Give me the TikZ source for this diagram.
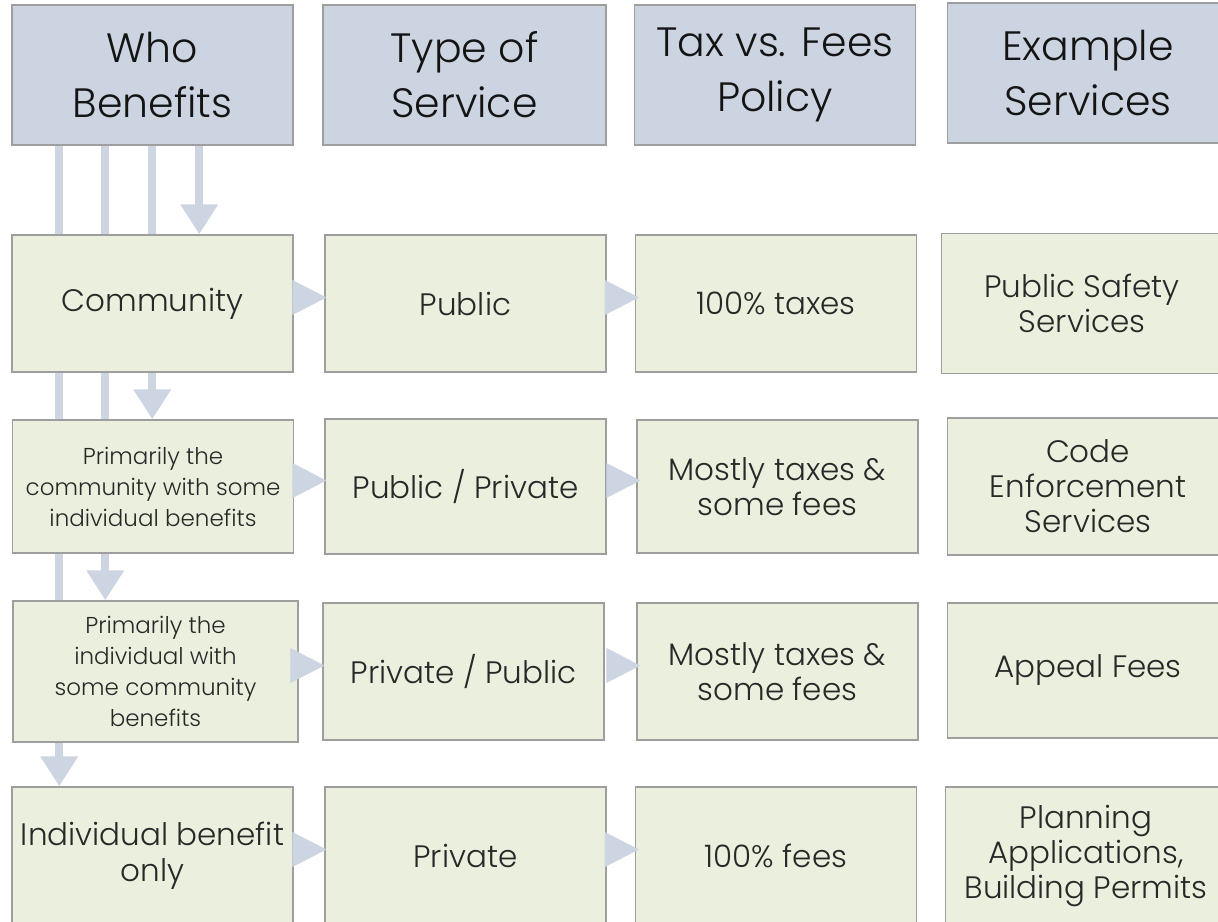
\documentclass[tikz,border=0pt]{standalone}
\usepackage{fontspec}
\setmainfont{Poppins Light}
\usepackage{tikz}
\usetikzlibrary{arrows.meta}
\usetikzlibrary{backgrounds}

\definecolor{headfill}{RGB}{205,212,225}
\definecolor{cellfill}{RGB}{235,240,222}
\definecolor{boxline}{RGB}{158,158,158}
\definecolor{arrowfill}{RGB}{205,212,226}
\definecolor{headtext}{RGB}{20,20,20}
\definecolor{celltext}{RGB}{40,40,40}

\tikzset{
	headbox/.style={draw=boxline, fill=headfill, line width=0.75pt, inner sep=0pt, align=center,
		minimum width=140.5pt, minimum height=70pt, text=headtext, font=\fontsize{20.5}{27.5}\selectfont},
	cellbox/.style={draw=boxline, fill=cellfill, line width=0.75pt, inner sep=0pt, align=center,
		minimum width=140.5pt, minimum height=68.5pt, text=celltext, font=\fontsize{15.5}{17.5}\selectfont},
	smalltext/.style={font=\fontsize{11.5}{15.5}\selectfont},
	varrow/.style={draw=arrowfill, line width=4pt, -{Triangle[length=15pt,width=18pt]}},
	harrow/.style={draw=arrowfill, line width=0.01pt, -{Triangle[length=17pt,width=17.5pt]}}
}

\begin{document}
\begin{tikzpicture}[x=0.5pt, y=-0.5pt]
	\clip (0,0) rectangle (1218,921);
	
	% column heads
	\node[headbox] (h1) at (152.5,75) {Who\\Benefits};
	\node[headbox, minimum width=141.5pt] (h2) at (464.5,75) {Type of\\Service};
	\node[headbox] (h3) at (775,75) {Tax vs. Fees\\Policy};
	\node[headbox] (h4) at (1088,73) {Example\\Services};
	
	% rows
	\node[cellbox] (b11) at (152.5,303.5) {Community};
	\node[cellbox] (b12) at (465.5,303.5) {Public};
	\node[cellbox] (b13) at (776,303.5) {100\% taxes};
	\node[cellbox, minimum height=70pt] (b14) at (1082,303.5) {Public Safety\\Services};
	
	\node[cellbox, smalltext, minimum height=66.5pt] (b21) at (153,486.5) {Primarily the\\community with some\\individual benefits};
	\node[cellbox, minimum height=67.5pt] (b22) at (465.5,486.5) {Public / Private};
	\node[cellbox, minimum height=66.5pt] (b23) at (777.5,486.5) {Mostly taxes \&\\some fees};
	\node[cellbox] (b24) at (1088,486.5) {Code\\Enforcement\\Services};
	
	\node[cellbox, smalltext, minimum width=142.5pt, minimum height=70.5pt] (b31) at (155.5,671.5) {Primarily the\\individual with\\some community\\benefits};
	\node[cellbox] (b32) at (463.5,671.5) {Private / Public};
	\node[cellbox] (b33) at (777.5,671.5) {Mostly taxes \&\\some fees};
	\node[cellbox, minimum height=67.5pt] (b34) at (1088,670.5) {Appeal Fees};
	
	\node[cellbox, font=\fontsize{15.5}{18}\selectfont] (b41) at (152.5,855.5) {Individual benefit\\only};
	\node[cellbox] (b42) at (465.5,855.5) {Private};
	\node[cellbox] (b43) at (776,855.5) {100\% fees};
	\node[cellbox] (b44) at (1086,855.5) {Planning\\Applications,\\Building Permits};
	
	% who benefits arrows, behind the boxes
	\begin{scope}[on background layer]
		\foreach \dx/\tgt in {188/b11, 141/b21, 94/b31, 48/b41}{
			\path (h1.south west) ++(\dx,0) coordinate (top);
			\draw[varrow] (top) -- (top |- \tgt.north);
		}
	\end{scope}
	
	% row arrows
	\foreach \r in {1,...,4}{
		\draw[harrow] ([yshift=3pt]b\r1.east) -- ([xshift=1pt,yshift=3pt]b\r2.west);
		\draw[harrow] ([yshift=3pt]b\r2.east) -- ([xshift=2pt,yshift=3pt]b\r3.west);
	}
\end{tikzpicture}
\end{document}
